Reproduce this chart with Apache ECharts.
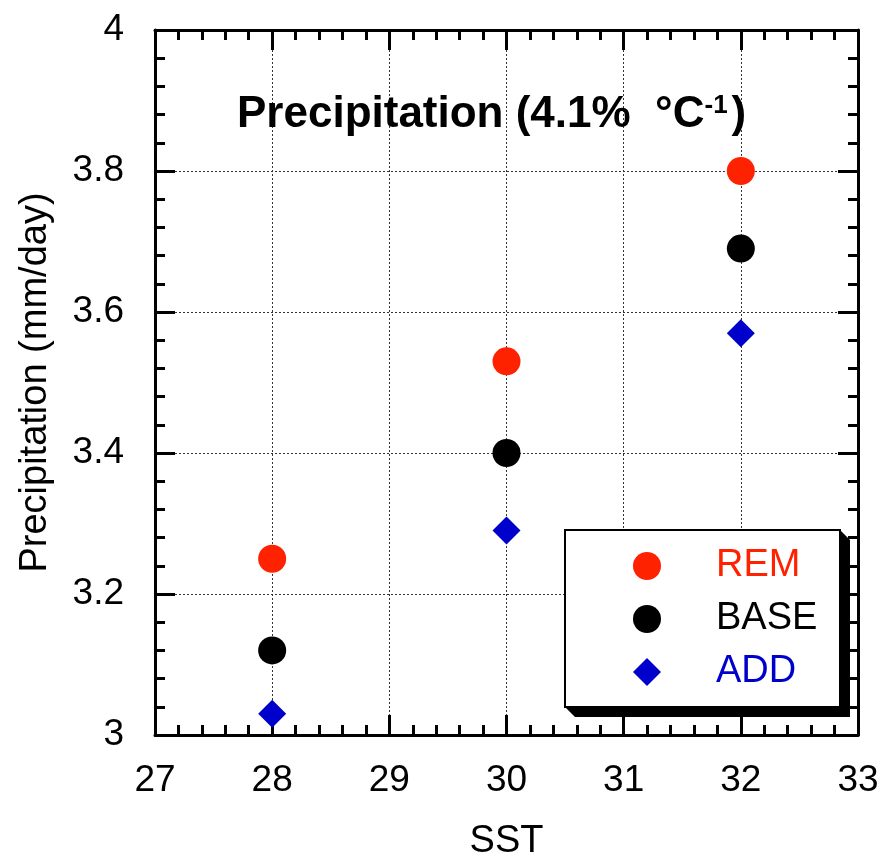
<!DOCTYPE html>
<html>
<head>
<meta charset="utf-8">
<script src="https://cdn.jsdelivr.net/npm/echarts@6/dist/echarts.min.js"></script>
<style>
  html, body { margin: 0; padding: 0; background: #fff; }
  #chart { width: 884px; height: 855px; }
</style>
</head>
<body>
<div id="chart"></div>
<script>
// Sea surface temperature (°C) for each experiment
const sst = [28, 30, 32];
// Mean precipitation (mm/day) per experiment
const remValues = [3.25, 3.53, 3.80];
const baseValues = [3.12, 3.40, 3.69];
const addValues = [3.03, 3.29, 3.57];
const seriesNames = ['REM', 'BASE', 'ADD'];
const xTicks = { min: 27, max: 33, step: 1 };
const yTicks = { min: 3, max: 4, step: 0.2 };

const FONT = '"Liberation Sans", Arial, Helvetica, sans-serif';
const RED = '#ff2200';
const BLACK = '#000000';
const BLUE = '#0000cc';

const pairs = (xs, ys) => xs.map((x, i) => [x, ys[i]]);

const chart = echarts.init(document.getElementById('chart'), null, { renderer: 'canvas' });

const axisLine = { show: true, onZero: false, lineStyle: { color: '#000', width: 3 } };
const axisTick = { show: true, inside: true, length: 20, lineStyle: { color: '#000', width: 3 } };
const minorTick = { show: true, splitNumber: 5, length: 10, lineStyle: { color: '#000', width: 3 } };
const splitLine = { show: true, lineStyle: { color: '#333', width: 1, type: [2, 2] } };

// Legend frame with a solid extruded drop shadow
const box = { x: 565, y: 530, w: 275, h: 177, d: 10 };

chart.setOption({
  animation: false,
  backgroundColor: '#fff',
  title: {
    text: 'Precipitation (4.1%  °C{sup|-1})',
    left: 237,
    top: 93,
    padding: 0,
    textStyle: {
      fontFamily: FONT,
      fontSize: 44,
      fontWeight: 'bold',
      color: '#000',
      rich: {
        sup: { fontFamily: FONT, fontSize: 26, fontWeight: 'bold', color: '#000', verticalAlign: 'top', padding: [0, 4, 18, 0] }
      }
    }
  },
  grid: { left: 155, right: 26, top: 30, bottom: 120, containLabel: false, outerBoundsMode: 'none' },
  graphic: [
    {
      type: 'polygon', z: 20, silent: true,
      shape: {
        points: [
          [box.x + box.w, box.y],
          [box.x + box.w + box.d, box.y + box.d],
          [box.x + box.w + box.d, box.y + box.h + box.d],
          [box.x + box.d, box.y + box.h + box.d],
          [box.x, box.y + box.h]
        ]
      },
      style: { fill: '#000' }
    },
    {
      type: 'rect', z: 21, silent: true,
      shape: { x: box.x, y: box.y, width: box.w, height: box.h },
      style: { fill: '#fff', stroke: '#000', lineWidth: 2 }
    }
  ],
  legend: {
    z: 30,
    orient: 'vertical',
    left: 633,
    top: 547,
    padding: 0,
    itemWidth: 28,
    itemHeight: 28,
    itemGap: 15,
    selectedMode: false,
    textStyle: { fontFamily: FONT, fontSize: 38, padding: [0, 0, 0, 50] },
    data: [
      { name: seriesNames[0], icon: 'circle', textStyle: { color: RED } },
      { name: seriesNames[1], icon: 'circle', textStyle: { color: BLACK } },
      { name: seriesNames[2], icon: 'diamond', textStyle: { color: BLUE } }
    ]
  },
  xAxis: [
    {
      type: 'value', position: 'bottom',
      min: xTicks.min, max: xTicks.max, interval: xTicks.step,
      name: 'SST', nameLocation: 'middle', nameGap: 88,
      nameTextStyle: { fontFamily: FONT, fontSize: 38, color: '#000' },
      axisLine, axisTick, minorTick, splitLine,
      axisLabel: { fontFamily: FONT, fontSize: 37, color: '#000', margin: 27 }
    },
    {
      type: 'value', position: 'top',
      min: xTicks.min, max: xTicks.max, interval: xTicks.step,
      axisLine, axisTick, minorTick,
      splitLine: { show: false }, axisLabel: { show: false }
    }
  ],
  yAxis: [
    {
      type: 'value', position: 'left',
      min: yTicks.min, max: yTicks.max, interval: yTicks.step,
      name: 'Precipitation (mm/day)', nameLocation: 'middle', nameGap: 100,
      nameTextStyle: { fontFamily: FONT, fontSize: 38, color: '#000' },
      axisLine, axisTick, minorTick, splitLine,
      axisLabel: {
        fontFamily: FONT, fontSize: 37, color: '#000', margin: 31,
        formatter: v => (Math.abs(v - Math.round(v)) < 1e-9 ? String(Math.round(v)) : v.toFixed(1))
      }
    },
    {
      type: 'value', position: 'right',
      min: yTicks.min, max: yTicks.max, interval: yTicks.step,
      axisLine, axisTick, minorTick,
      splitLine: { show: false }, axisLabel: { show: false }
    }
  ],
  series: [
    {
      name: seriesNames[0], type: 'scatter', symbol: 'circle', symbolSize: 28,
      itemStyle: { color: RED, opacity: 1 }, data: pairs(sst, remValues), z: 5
    },
    {
      name: seriesNames[1], type: 'scatter', symbol: 'circle', symbolSize: 28,
      itemStyle: { color: BLACK, opacity: 1 }, data: pairs(sst, baseValues), z: 5
    },
    {
      name: seriesNames[2], type: 'scatter', symbol: 'diamond', symbolSize: 28,
      itemStyle: { color: BLUE, opacity: 1 }, data: pairs(sst, addValues), z: 5
    }
  ]
});
</script>
</body>
</html>
